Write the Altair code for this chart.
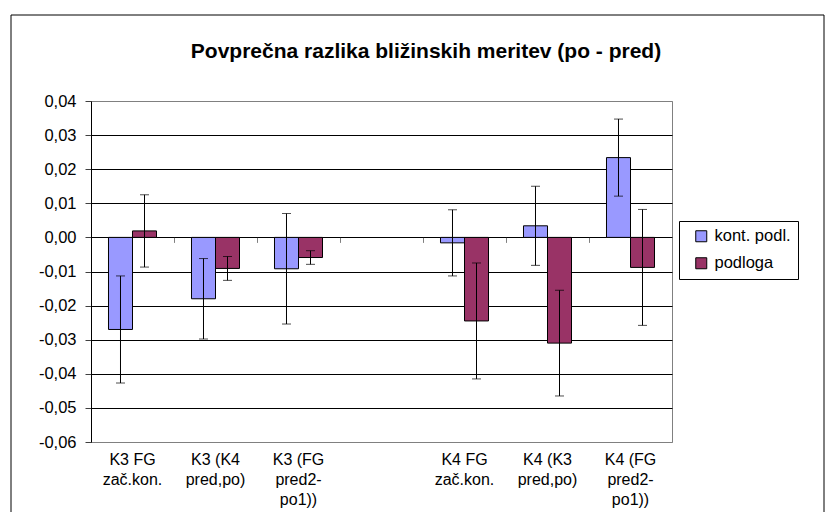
import altair as alt
import pandas as pd

title_text = "Povprečna razlika bližinskih meritev (po - pred)"
categories = ["K3 FG\nzač.kon.", "K3 (K4\npred,po)", "K3 (FG\npred2-\npo1))", " ",
              "K4 FG\nzač.kon.", "K4 (K3\npred,po)", "K4 (FG\npred2-\npo1))"]
series = ["kont. podl.", "podloga"]
kont = [-0.0270, -0.0180, -0.0092, None, -0.0016, 0.0034, 0.0234]
kont_err = [0.0157, 0.0118, 0.0162, None, 0.0097, 0.0116, 0.0113]
podl = [0.0019, -0.0091, -0.0059, None, -0.0245, -0.0310, -0.0088]
podl_err = [0.0106, 0.0035, 0.0020, None, 0.0170, 0.0155, 0.0170]
y_ticks = [-0.06, -0.05, -0.04, -0.03, -0.02, -0.01, 0.0, 0.01, 0.02, 0.03, 0.04]
colors = ["#9999FF", "#993366"]

rows = []
for i, c in enumerate(categories):
    for s, vals, errs in ((series[0], kont, kont_err), (series[1], podl, podl_err)):
        if vals[i] is None:
            continue
        rows.append({"cat": c, "series": s, "value": vals[i], "err": errs[i]})
df = pd.DataFrame(rows)

FONT = "Liberation Sans"
W, H = 581, 341

xscale = alt.Scale(domain=categories, paddingInner=0, paddingOuter=0)
xoff = alt.XOffset("series:N", scale=alt.Scale(domain=series, paddingInner=0, paddingOuter=0.729))
yscale = alt.Scale(domain=[-0.06, 0.04], nice=False)

base = alt.Chart(df).transform_calculate(
    lo="datum.value - datum.err", hi="datum.value + datum.err"
)

label_axis = alt.Axis(
    orient="bottom", ticks=False, domain=False, grid=False, title=None,
    labelAngle=0, labelExpr="split(datum.label, '\\n')", labelFont=FONT,
    labelFontSize=16, labelColor="black", labelLineHeight=20, labelPadding=9,
    labelLimit=0, labelOverlap=False,
)
tick_axis = alt.Axis(
    orient="bottom", offset=-(H * 0.6), labels=False, ticks=True, tickBand="extent",
    tickSize=5, tickColor="#808080", domain=False, grid=False, title=None,
)
y_axis = alt.Axis(
    values=y_ticks, title=None, grid=True,
    gridColor={"condition": {"test": "datum.value > 0.035 || datum.value < -0.055", "value": "#808080"}, "value": "black"},
    gridWidth=1, domainColor="black", tickColor="#404040", tickSize=6,
    labelFont=FONT, labelFontSize=16.5, labelColor="black", labelPadding=9,
    labelExpr="(datum.value < -1e-9 ? '-' : '') + replace(format(abs(datum.value), '.2f'), '.', ',')",
)

border = alt.Chart(pd.DataFrame({"a": [0]})).mark_rect(
    fillOpacity=0, stroke="black", strokeWidth=1
).encode(x=alt.value(-80), x2=alt.value(733), y=alt.value(-86), y2=alt.value(700))

title = alt.Chart(pd.DataFrame({"t": [title_text]})).mark_text(
    font=FONT, fontSize=21, fontWeight="bold", color="black", align="center", baseline="alphabetic"
).encode(text="t:N", x=alt.value(335), y=alt.value(-43))

bars = base.mark_bar(stroke="black", strokeWidth=1).encode(
    x=alt.X("cat:N", scale=xscale, sort=categories, axis=label_axis),
    xOffset=xoff,
    y=alt.Y("value:Q", scale=yscale, axis=y_axis),
    color=alt.Color("series:N", scale=alt.Scale(domain=series, range=colors),
                    legend=alt.Legend(
                        title=None, orient="none", legendX=588, legendY=120,
                        strokeColor="black", fillColor="white", padding=7,
                        symbolType="square", symbolSize=121, symbolStrokeColor="black",
                        symbolStrokeWidth=1, symbolOffset=7, labelOffset=5,
                        labelFont=FONT, labelFontSize=16.5, labelColor="black",
                        rowPadding=10)),
)

rules = base.mark_rule(color="black", strokeWidth=1).encode(
    x=alt.X("cat:N", scale=xscale, sort=categories, axis=tick_axis),
    xOffset=xoff,
    y=alt.Y("lo:Q", scale=yscale, axis=y_axis),
    y2="hi:Q",
)

cap_lo = base.mark_tick(color="black", thickness=1, size=9).encode(
    x=alt.X("cat:N", scale=xscale, sort=categories, axis=None),
    xOffset=xoff,
    y=alt.Y("lo:Q", scale=yscale, axis=y_axis),
)
cap_hi = base.mark_tick(color="black", thickness=1, size=9).encode(
    x=alt.X("cat:N", scale=xscale, sort=categories, axis=None),
    xOffset=xoff,
    y=alt.Y("hi:Q", scale=yscale, axis=y_axis),
)

chart = alt.layer(border, title, bars, rules, cap_lo, cap_hi).resolve_axis(x="independent").properties(
    width=W, height=H,
    autosize=alt.AutoSizeParams(type="none"),
    padding={"left": 83, "top": 93, "right": 154, "bottom": 70},
    background="white",
).configure_view(stroke="#808080", strokeWidth=1)

chart.save("out.html", embed_options={"renderer": "svg", "actions": False})
